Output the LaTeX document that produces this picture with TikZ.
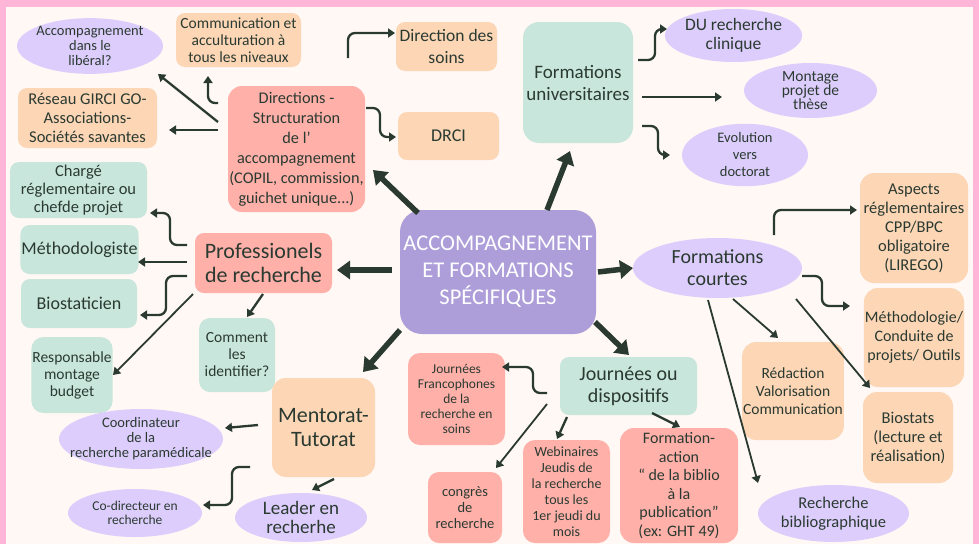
\documentclass[tikz,border=0pt]{standalone}
\usepackage{fontspec}
\setmainfont{Carlito}
\usetikzlibrary{arrows.meta,calc,shapes.geometric}
\definecolor{bg}{HTML}{FFF8F4}
\definecolor{pinkb}{HTML}{FFB5D8}
\definecolor{ink}{HTML}{2A3A31}
\definecolor{peach}{HTML}{FDD6B6}
\definecolor{salmon}{HTML}{FFB0A9}
\definecolor{mint}{HTML}{C9E6DC}
\definecolor{lav}{HTML}{DDCDFC}
\definecolor{purp}{HTML}{AD9EDA}
\newcommand\fz[2]{\fontsize{#1}{#2}\selectfont}
\begin{document}
\begin{tikzpicture}[x=1pt,y=-1pt,
  box/.style={rounded corners=9pt, align=center, inner sep=1pt, text=ink},
  ell/.style={ellipse, fill=lav, align=center, inner sep=0pt, text=ink},
  arr/.style={draw=ink, line width=2.3pt, -{Triangle[length=7pt,width=9pt]}, rounded corners=7pt},
  bigarrow/.style={draw=ink, line width=5.5pt, -{Triangle[length=13pt,width=18pt]}}]
\useasboundingbox (0,0) rectangle (979,544);
\fill[pinkb] (0,0) rectangle (979,544);
\fill[bg] (6,7) rectangle (973,544);

% centre
\node[box, fill=purp, text=white, rounded corners=22pt, minimum width=196pt, minimum height=124pt, font=\fz{22.5}{27}] (C) at (498,272) {ACCOMPAGNEMENT\\ET FORMATIONS\\SPÉCIFIQUES};

% top-left
\node[box, fill=salmon, minimum width=137pt, minimum height=126pt, rounded corners=14pt, inner xsep=0pt, font=\fz{16.3}{20}] (dir) at (296.5,149) {Directions -\\Structuration\\de l’\\accompagnement\\(COPIL, commission,\\guichet unique...)};
\node[box, fill=peach, minimum width=125pt, minimum height=54pt, font=\fz{15.5}{17}] (comm) at (238.5,40) {Communication et\\acculturation à\\tous les niveaux};
\node[ell, minimum width=146pt, minimum height=52pt, inner xsep=-6pt, font=\fz{14.5}{15}] (lib) at (90,46) {Accompagnement\\dans le\\libéral?};
\node[box, fill=peach, minimum width=139pt, minimum height=60pt, font=\fz{16.5}{19}] (girci) at (87.5,118) {Réseau GIRCI GO-\\Associations-\\Sociétés savantes};
\node[box, fill=peach, minimum width=101pt, minimum height=49pt, font=\fz{17.5}{22}] (dsoins) at (446.5,46.5) {Direction des\\soins};
\node[box, fill=peach, minimum width=101pt, minimum height=48pt, font=\fz{18}{20}] (drci) at (448.5,136) {DRCI};

% left
\node[box, fill=mint, minimum width=137pt, minimum height=56pt, font=\fz{16.5}{18}] (charge) at (78.5,190) {Chargé\\réglementaire ou\\chefde projet};
\node[box, fill=mint, minimum width=115pt, minimum height=49pt, font=\fz{18}{20}] (methodo) at (79.5,249.5) {Méthodologiste};
\node[box, fill=mint, minimum width=116pt, minimum height=49pt, font=\fz{18}{20}] (biostat) at (79,303.5) {Biostaticien};
\node[box, fill=mint, minimum width=80pt, minimum height=76pt, rounded corners=12pt, font=\fz{15.5}{17}] (resp) at (72,375) {Responsable\\montage\\budget};
\node[box, fill=salmon, minimum width=137pt, minimum height=60pt, font=\fz{22}{24}] (prof) at (263.5,263) {Professionels\\de recherche};
\node[box, fill=mint, minimum width=76pt, minimum height=74pt, rounded corners=11pt, font=\fz{15.5}{17}] (comment) at (237,355) {Comment\\les\\identifier?};

% bottom-left
\node[box, fill=peach, minimum width=103pt, minimum height=99pt, rounded corners=14pt, font=\fz{22}{24}] (mentor) at (323.5,427.5) {Mentorat-\\Tutorat};
\node[ell, minimum width=164pt, minimum height=60pt, inner xsep=-14pt, inner ysep=-4pt, font=\fz{14.5}{15}] (coord) at (141,439) {Coordinateur\\de la\\recherche paramédicale};
\node[ell, minimum width=134pt, minimum height=48pt, font=\fz{13.5}{14}] (codir) at (135,513) {Co-directeur en\\recherche};
\node[ell, minimum width=132pt, minimum height=49pt, font=\fz{19}{19}] (leader) at (301,517.5) {Leader en\\recherhe};

% top-right
\node[box, fill=mint, minimum width=110pt, minimum height=121pt, rounded corners=16pt, font=\fz{19}{22}] (fu) at (578,82.5) {Formations\\universitaires};
\node[ell, minimum width=127pt, minimum height=53pt, font=\fz{17.5}{19}] (du) at (733.5,35.5) {DU recherche\\clinique};
\node[ell, minimum width=133pt, minimum height=55pt, font=\fz{15.5}{14}] (montage) at (810.5,90.5) {Montage\\projet de\\thèse};
\node[ell, minimum width=126pt, minimum height=54pt, font=\fz{14.5}{17}] (evol) at (745,155) {Evolution\\vers\\doctorat};

% right
\node[ell, minimum width=169pt, minimum height=60pt, font=\fz{20}{22}] (fc) at (717.5,268) {Formations\\courtes};
\node[box, fill=peach, minimum width=108pt, minimum height=110pt, rounded corners=14pt, font=\fz{16.5}{19}] (aspects) at (914,228) {Aspects\\réglementaires\\CPP/BPC\\obligatoire\\(LIREGO)};
\node[box, fill=peach, minimum width=98pt, minimum height=99pt, rounded corners=14pt, font=\fz{16}{19}] (meth2) at (914,337.5) {Méthodologie/\\Conduite de\\projets/ Outils};
\node[box, fill=peach, minimum width=100pt, minimum height=98pt, rounded corners=14pt, font=\fz{15.5}{18}] (redac) at (793,391) {Rédaction\\Valorisation\\Communication};
\node[box, fill=peach, minimum width=90pt, minimum height=91pt, rounded corners=14pt, font=\fz{16.5}{19}] (biostats) at (908,437.5) {Biostats\\(lecture et\\réalisation)};
\node[ell, minimum width=151pt, minimum height=57pt, font=\fz{16.5}{19}] (biblio) at (833.5,513.5) {Recherche\\bibliographique};

% bottom-middle
\node[box, fill=mint, minimum width=137pt, minimum height=58pt, font=\fz{20}{22}] (journees) at (628.5,386) {Journées ou\\dispositifs};
\node[box, fill=salmon, minimum width=97pt, minimum height=92pt, rounded corners=12pt, font=\fz{13.5}{15}] (jfr) at (456.5,399) {Journées\\Francophones\\de la\\recherche en\\soins};
\node[box, fill=salmon, minimum width=74pt, minimum height=71pt, rounded corners=11pt, font=\fz{14.5}{16}] (congres) at (465,507.5) {congrès\\de\\recherche};
\node[box, fill=salmon, minimum width=87pt, minimum height=103pt, rounded corners=12pt, font=\fz{14}{16}] (webi) at (566.5,491.5) {Webinaires\\Jeudis de\\la recherche\\tous les\\1er jeudi du\\mois};
\node[box, fill=salmon, minimum width=118pt, minimum height=115pt, rounded corners=14pt, font=\fz{16}{18.5}] (formact) at (679,485.5) {Formation-\\action\\“ de la biblio\\à la\\publication”\\(ex: GHT 49)};

% thick arrows from centre
\draw[bigarrow] ($(C)+(-80,-59)$) -- ($(dir)+(76.5,21)$);
\draw[bigarrow] ($(C)+(49,-62)$) -- ($(fu)+(-8,68.5)$);
\draw[bigarrow] ($(C)+(-106,-2)$) -- ($(prof)+(73.5,7)$);
\draw[bigarrow] ($(C)+(100,0)$) -- ($(fc)+(-84.5,0)$);
\draw[bigarrow] ($(C)+(97,50)$) -- ($(journees)+(0.5,-31)$);
\draw[bigarrow] ($(C)+(-98,58)$) -- ($(mentor)+(39.5,-55.5)$);

% thin arrows
\draw[arr] ($(dir)+(-78.5,-46)$) -- ++(-10,0) -- ($(comm)+(-30.5,36)$);
\draw[arr] ($(dir)+(-78.5,-27)$) -- ($(lib)+(68,28)$);
\draw[arr] ($(dir)+(-78.5,-19)$) -- ($(girci)+(81.5,12)$);
\draw[arr] ($(dir)+(51.5,-91)$) |- ($(dsoins)+(-51.5,-13.5)$);
\draw[arr] ($(dir)+(69.5,-41)$) -- ++(14,0) |- ($(drci)+(-52.5,1)$);
\draw[arr] ($(fu)+(60,-22.5)$) -- ++(17,0) |- ($(du)+(-66.5,-6.5)$);
\draw[arr] ($(fu)+(64,14.5)$) -- ($(montage)+(-88.5,6.5)$);
\draw[arr] ($(fu)+(64,43.5)$) -- ++(16,0) |- ($(evol)+(-75,0)$);
\draw[arr] ($(prof)+(-76.5,-18)$) -- ++(-17,0) |- ($(charge)+(71.5,23)$);
\draw[arr] ($(prof)+(-76.5,-1)$) -- ($(methodo)+(58.5,12.5)$);
\draw[arr] ($(prof)+(-76.5,13)$) -- ++(-21,0) |- ($(biostat)+(61,11.5)$);
\draw[arr, line width=1.8pt] ($(prof)+(-70.5,31)$) -- ($(resp)+(41,0)$);
\draw[arr] ($(prof)+(-0.5,31)$) -- ($(comment)+(10,-38)$);
\draw[arr] ($(mentor)+(-65.5,-2.5)$) -- ($(coord)+(84,-11)$);
\draw[arr] ($(mentor)+(-73.5,39.5)$) -- ++(-18,0) |- ($(codir)+(68,-8)$);
\draw[arr] ($(mentor)+(10.5,51.5)$) -- ($(leader)+(11,-27.5)$);
\draw[arr] ($(journees)+(-81.5,7)$) -- ++(-14,0) |- ($(jfr)+(45.5,-32)$);
\draw[arr, line width=1.8pt] ($(journees)+(-81.5,18)$) -- ($(congres)+(31,-39.5)$);
\draw[arr] ($(journees)+(-61.5,31)$) -- ($(webi)+(-9.5,-52.5)$);
\draw[arr] ($(journees)+(23.5,27)$) -- ($(formact)+(1,-58.5)$);
\draw[arr] ($(fc)+(56.5,-33)$) |- ($(aspects)+(-57,-18)$);
\draw[arr] ($(fc)+(84.5,8)$) -- ++(20,0) |- ($(meth2)+(-64,-31.5)$);
\draw[arr, line width=1.8pt] ($(fc)+(15.5,31)$) -- ($(redac)+(-15,-53)$);
\draw[arr, line width=1.8pt] ($(fc)+(78.5,31)$) -- ($(biostats)+(-38,-49.5)$);
\draw[arr, line width=1.8pt] ($(fc)+(-9.5,32)$) -- ($(biblio)+(-75.5,-30.5)$);
\end{tikzpicture}
\end{document}
